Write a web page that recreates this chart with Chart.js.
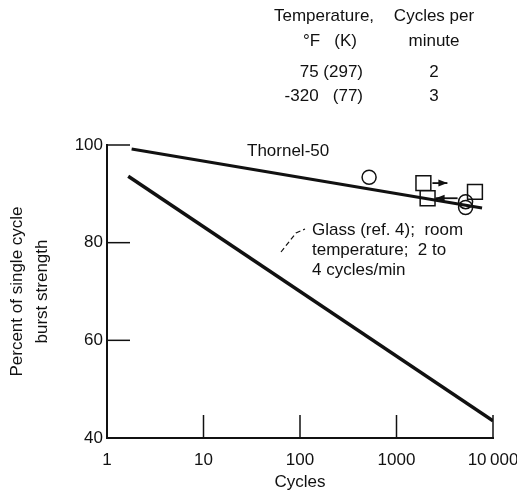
<!DOCTYPE html>
<html>
<head>
<meta charset="utf-8">
<script src="https://cdn.jsdelivr.net/npm/chart.js@4.4.1/dist/chart.umd.min.js"></script>
<style>
  html, body { margin: 0; padding: 0; background: #fff; }
  canvas { display: block; }
</style>
</head>
<body>
<canvas id="fatigue" width="517" height="493"></canvas>
<script>
// values
const thornelCycles = [1.8, 7700];
const thornelPercent = [99.2, 87.1];

const glassCycles = [1.66, 10000];
const glassPercent = [93.6, 43.5];

// 75 F (297 K), 2 cycles/min -> circles
const roomCycles = [520, 5200, 5200];
const roomPercent = [93.4, 88.4, 87.2];

// -320 F (77 K), 3 cycles/min -> squares
const cryoCycles = [1900, 2100, 6500];
const cryoPercent = [92.2, 89.1, 90.4];

const xTickValues = [1, 10, 100, 1000, 10000];
const xTickLabels = ["1", "10", "100", "1000", "10\u2009000"];
const yTickValues = [40, 60, 80, 100];

const FONT = "'Liberation Sans', Arial, sans-serif";
const INK = "#111";

const toPoints = (xs, ys) => xs.map((x, i) => ({ x: x, y: ys[i] }));

// ticks pointing into the plot, plus the notes and arrows
const extras = {
  id: "extras",
  beforeDraw(chart) {
    const c = chart.ctx;
    c.save();
    c.fillStyle = "#fff";
    c.fillRect(0, 0, chart.width, chart.height);
    c.restore();
  },
  afterDraw(chart) {
    const c = chart.ctx;
    const xs = chart.scales.x;
    const ys = chart.scales.y;
    const area = chart.chartArea;
    c.save();
    c.strokeStyle = INK;
    c.fillStyle = INK;

    // inward ticks
    c.lineWidth = 1.5;
    yTickValues.forEach((v) => {
      if (v === 40) return;
      const py = ys.getPixelForValue(v);
      c.beginPath();
      c.moveTo(area.left, py);
      c.lineTo(area.left + 23, py);
      c.stroke();
    });
    xTickValues.forEach((v) => {
      if (v === 1) return;
      const px = xs.getPixelForValue(v);
      c.beginPath();
      c.moveTo(px, area.bottom);
      c.lineTo(px, area.bottom - 23);
      c.stroke();
    });

    // arrows next to two square points
    const arrow = (px, py, len) => {
      const dir = Math.sign(len);
      c.lineWidth = 1.8;
      c.beginPath();
      c.moveTo(px, py);
      c.lineTo(px + len, py);
      c.stroke();
      const tip = px + len;
      c.beginPath();
      c.moveTo(tip, py);
      c.lineTo(tip - dir * 9, py - 3.5);
      c.lineTo(tip - dir * 9, py + 3.5);
      c.closePath();
      c.fill();
    };
    const s0x = xs.getPixelForValue(cryoCycles[0]);
    const s0y = ys.getPixelForValue(cryoPercent[0]);
    arrow(s0x + 9, s0y, 15);
    const s1x = xs.getPixelForValue(cryoCycles[1]);
    const s1y = ys.getPixelForValue(cryoPercent[1]);
    arrow(s1x + 30, s1y, -22);

    // leader for the glass note
    c.lineWidth = 1.2;
    c.setLineDash([5, 3]);
    c.beginPath();
    c.moveTo(281, 252);
    c.lineTo(296, 233);
    c.lineTo(305, 229);
    c.stroke();
    c.setLineDash([]);

    // texts
    c.font = "17px " + FONT;
    c.textBaseline = "middle";
    c.textAlign = "left";
    c.fillText("Thornel-50", 247, 151);
    c.fillText("Glass (ref. 4);  room", 312, 230);
    c.fillText("temperature;  2 to", 312, 250);
    c.fillText("4 cycles/min", 312, 270);

    c.textAlign = "center";
    c.fillText("Temperature,", 324, 16);
    c.fillText("\u00b0F   (K)", 330, 41);
    c.fillText("Cycles per", 434, 16);
    c.fillText("minute", 434, 41);
    c.fillText("2", 434, 72);
    c.fillText("3", 434, 96);
    c.textAlign = "right";
    c.fillText("75 (297)", 363, 72);
    c.fillText("-320   (77)", 363, 96);
    c.restore();
  }
};

new Chart(document.getElementById("fatigue"), {
  type: "scatter",
  data: {
    datasets: [
      {
        label: "Thornel-50",
        data: toPoints(thornelCycles, thornelPercent),
        showLine: true,
        borderColor: INK,
        borderWidth: 3,
        pointRadius: 0
      },
      {
        label: "Glass",
        data: toPoints(glassCycles, glassPercent),
        showLine: true,
        borderColor: INK,
        borderWidth: 3.5,
        pointRadius: 0
      },
      {
        label: "75 (297)",
        data: toPoints(roomCycles, roomPercent),
        pointStyle: "circle",
        pointRadius: 7,
        borderColor: INK,
        borderWidth: 1.5,
        backgroundColor: "rgba(255,255,255,0)"
      },
      {
        label: "-320 (77)",
        data: toPoints(cryoCycles, cryoPercent),
        pointStyle: "rect",
        pointRadius: 10.5,
        borderColor: INK,
        borderWidth: 1.5,
        backgroundColor: "#fff"
      }
    ]
  },
  options: {
    responsive: false,
    animation: false,
    layout: { padding: { top: 145, right: 24, left: 0, bottom: 0 } },
    plugins: {
      legend: { display: false },
      tooltip: { enabled: false }
    },
    scales: {
      x: {
        type: "logarithmic",
        min: 1,
        max: 10000,
        afterBuildTicks: (s) => {
          s.ticks = xTickValues.map((v) => ({ value: v }));
        },
        afterFit: (s) => {
          s.height = 55;
          s.paddingLeft = 0;
          s.paddingRight = 0;
        },
        grid: { display: false, drawTicks: false },
        border: { display: true, color: INK, width: 2 },
        ticks: {
          autoSkip: false,
          maxRotation: 0,
          padding: 12,
          color: INK,
          font: { family: FONT, size: 17 },
          callback: (v) => {
            const i = xTickValues.indexOf(v);
            return i < 0 ? "" : xTickLabels[i];
          }
        },
        title: {
          display: true,
          text: "Cycles",
          color: INK,
          padding: 0,
          font: { family: FONT, size: 17 }
        }
      },
      y: {
        min: 40,
        max: 100,
        afterBuildTicks: (s) => {
          s.ticks = yTickValues.map((v) => ({ value: v }));
        },
        afterFit: (s) => {
          s.width = 107;
        },
        grid: { display: false, drawTicks: false },
        border: { display: true, color: INK, width: 2 },
        ticks: {
          padding: 4,
          color: INK,
          font: { family: FONT, size: 17 }
        },
        title: {
          display: true,
          text: ["Percent of single cycle", "burst strength"],
          color: INK,
          padding: { top: 5, bottom: 0 },
          font: { family: FONT, size: 17, lineHeight: 1.45 }
        }
      }
    }
  },
  plugins: [extras]
});
</script>
</body>
</html>
